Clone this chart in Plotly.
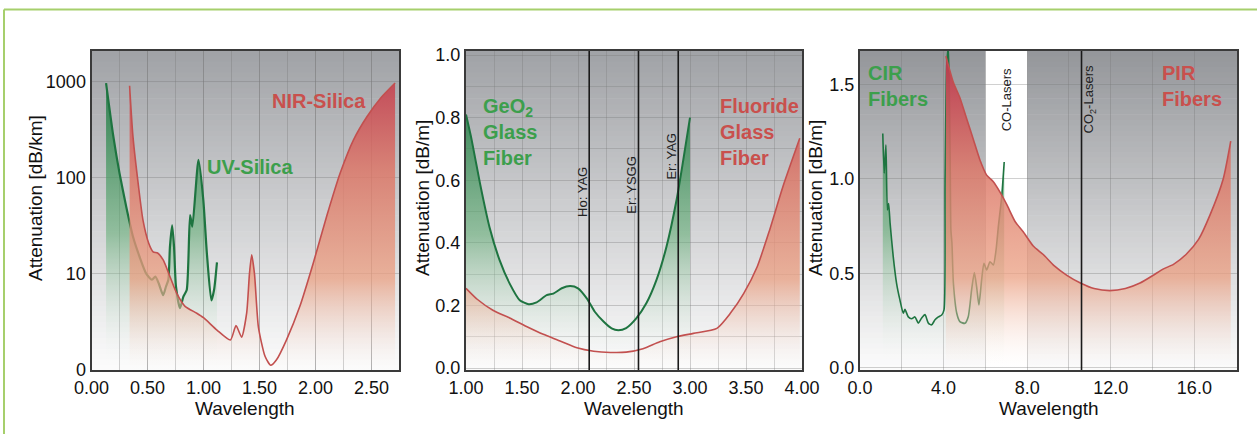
import plotly.graph_objects as go

# ---------------- data ----------------
# Panel 1 (log scale, dB/km)
uv_x = [0.13, 0.195, 0.25, 0.31, 0.37, 0.43, 0.49, 0.54, 0.57, 0.60, 0.64, 0.665, 0.686, 0.70, 0.72,
        0.737, 0.754, 0.79, 0.82, 0.85, 0.88, 0.90, 0.955, 0.998, 1.03, 1.07, 1.094, 1.12]
uv_y = [970, 270, 112, 50, 24.5, 15, 10, 8.7, 9.4, 8.0, 6.0, 7.4, 8.7, 19, 32,
        19, 7.4, 4.4, 5.8, 6.8, 41, 31, 154, 59, 16.4, 5.3, 6.8, 13.2]

nir_x = [0.34, 0.37, 0.42, 0.46, 0.51, 0.55, 0.59, 0.64, 0.70, 0.76, 0.835, 0.94, 1.00, 1.12, 1.24,
         1.29, 1.34, 1.385, 1.41, 1.43, 1.455, 1.49, 1.55, 1.60, 1.65, 1.74, 1.86, 1.98, 2.10,
         2.22, 2.34, 2.46, 2.58, 2.71]
nir_y = [910, 270, 81, 36, 21, 17, 16.5, 14, 9.4, 6.3, 4.6, 3.9, 3.5, 2.6, 2.05,
         2.9, 2.2, 3.9, 10, 15.8, 10, 2.8, 1.38, 1.12, 1.27, 2.05, 4.6, 13, 40,
         112, 250, 435, 675, 970]

# Panel 2 (dB/m)
geo_x = [1.00, 1.05, 1.125, 1.21, 1.30, 1.39, 1.48, 1.56, 1.63, 1.72, 1.78, 1.855, 1.93, 2.00,
         2.08, 2.15, 2.23, 2.30, 2.36, 2.43, 2.52, 2.61, 2.70, 2.79, 2.88, 2.94, 3.00]
geo_y = [0.81, 0.73, 0.59, 0.45, 0.345, 0.27, 0.217, 0.204, 0.21, 0.233, 0.238, 0.255, 0.262, 0.255,
         0.222, 0.18, 0.148, 0.127, 0.121, 0.128, 0.159, 0.207, 0.281, 0.388, 0.537, 0.665, 0.80]

flu_x = [1.00, 1.10, 1.24, 1.39, 1.54, 1.69, 1.84, 1.99, 2.14, 2.29, 2.43, 2.58, 2.73, 2.88, 3.03,
         3.24, 3.36, 3.48, 3.60, 3.71, 3.83, 3.98]
flu_y = [0.255, 0.22, 0.185, 0.16, 0.133, 0.108, 0.087, 0.065, 0.054, 0.050, 0.051, 0.062, 0.084,
         0.100, 0.111, 0.127, 0.175, 0.239, 0.324, 0.44, 0.58, 0.734]

# Panel 3 (dB/m)
cir_x = [1.09, 1.16, 1.24, 1.31, 1.37, 1.44, 1.59, 1.75, 1.91, 2.07, 2.15, 2.31, 2.47, 2.63, 2.79,
         2.95, 3.11, 3.27, 3.43, 3.59, 3.75, 3.91, 4.02, 4.07, 4.15, 4.23, 4.31, 4.35, 4.40, 4.47,
         4.63, 4.78, 5.02, 5.18, 5.34, 5.47, 5.58, 5.69, 5.82, 5.93, 6.06, 6.22, 6.38, 6.51, 6.62,
         6.78, 6.90]
cir_y = [1.24, 1.03, 1.18, 0.836, 0.87, 0.766, 0.589, 0.448, 0.36, 0.289, 0.31, 0.27, 0.26, 0.27, 0.237,
         0.264, 0.282, 0.237, 0.228, 0.255, 0.27, 0.28, 0.307, 0.977, 1.60, 1.70, 1.15, 0.73, 0.66, 0.448,
         0.289, 0.245, 0.236, 0.271, 0.413, 0.504, 0.43, 0.333, 0.466, 0.554, 0.518, 0.562, 0.545, 0.624, 0.748,
         0.906, 1.09]

pir_x = [4.11, 4.47, 4.78, 5.10, 5.42, 5.74, 6.06, 6.38, 6.70, 7.02, 7.42, 7.81, 8.29, 8.77, 9.3, 9.9,
         10.57, 11.2, 11.96, 12.7, 13.4, 14.03, 14.5, 15.0, 15.6, 16.2, 16.75, 17.38, 17.74]
pir_y = [1.65, 1.51, 1.43, 1.32, 1.21, 1.10, 1.02, 0.985, 0.93, 0.865, 0.775, 0.72, 0.645, 0.60, 0.54, 0.49,
         0.448, 0.42, 0.409, 0.42, 0.449, 0.49, 0.523, 0.548, 0.60, 0.68, 0.81, 1.0, 1.2]

laser_lines_p2 = [2.1, 2.54, 2.895]
laser_names_p2 = ["Ho: YAG", "Er: YSGG", "Er: YAG"]
co_band = [6.0, 8.0]
co2_line = 10.6

y1_ticks = [1, 10, 100, 1000]
y1_ticktext = ["0", "10", "100", "1000"]

# ---------------- style ----------------
W, H = 1257, 434
FONT = "Liberation Sans, Arial, Helvetica, sans-serif"
GREEN_LINE = "#1e7440"
RED_LINE = "#c2504f"
GREEN_TXT = "#3c9f4c"
RED_TXT = "#c9504d"

green_scale = [[0, "rgba(255,255,255,0)"], [0.45, "rgba(90,170,110,0.55)"], [1, "rgba(20,115,60,0.92)"]]
red_scale = [[0, "rgba(250,235,228,0)"], [0.3, "rgba(235,160,130,0.75)"], [0.65, "rgba(220,120,105,0.85)"],
             [1, "rgba(192,60,80,0.95)"]]

def px2x(px):
    return px / W

def py2y(py):
    return 1 - py / H

ydom = [py2y(370), py2y(51)]
xd1 = [px2x(91.5), px2x(399)]
xd2 = [px2x(466), px2x(802)]
xd3 = [px2x(860), px2x(1237)]

fig = go.Figure()

def add_curve(x, y, xa, ya, line_color, scale, start, stop, width):
    fig.add_trace(go.Scatter(
        x=x, y=y, xaxis=xa, yaxis=ya, mode="lines",
        line=dict(color=line_color, width=width, shape="spline", smoothing=0.6),
        fill="tozeroy",
        fillgradient=dict(type="vertical", colorscale=scale, start=start, stop=stop),
        hoverinfo="skip", showlegend=False))

add_curve(uv_x, uv_y, "x", "y", GREEN_LINE, green_scale, 1, 1500, 2.2)
add_curve(nir_x, nir_y, "x", "y", RED_LINE, red_scale, 1, 1500, 1.6)
add_curve(geo_x, geo_y, "x2", "y2", GREEN_LINE, green_scale, 0, 0.95, 2)
add_curve(flu_x, flu_y, "x2", "y2", RED_LINE, red_scale, 0, 0.95, 1.6)
add_curve(cir_x, cir_y, "x3", "y3", GREEN_LINE, green_scale, 0, 1.6, 1.6)
add_curve(pir_x, pir_y, "x3", "y3", RED_LINE, red_scale, 0, 1.6, 1.6)

shapes = []
# background gradients
def bg(xref, yref, top, bot, n=60):
    for i in range(n):
        t = (i + 0.5) / n
        c = [int(round(top[k] + (bot[k] - top[k]) * (1 - t))) for k in range(3)]
        shapes.append(dict(type="rect", xref=xref, yref=yref, x0=0, x1=1,
                           y0=i / n, y1=(i + 1) / n + 0.002, fillcolor="rgb(%d,%d,%d)" % tuple(c),
                           line=dict(width=0), layer="below"))

bg("x domain", "y domain", (160, 162, 166), (252, 252, 252))
bg("x2 domain", "y2 domain", (160, 162, 166), (252, 252, 252))
bg("x3 domain", "y3 domain", (148, 150, 154), (252, 252, 252))

shapes.append(dict(type="rect", xref="x3", yref="y3 domain", x0=co_band[0], x1=co_band[1], y0=0, y1=1,
                   fillcolor="white", line=dict(width=0), layer="below"))
for xv in laser_lines_p2:
    shapes.append(dict(type="line", xref="x2", yref="y2 domain", x0=xv, x1=xv, y0=0, y1=1,
                       line=dict(color="#1a1a1a", width=1.6), layer="above"))
shapes.append(dict(type="line", xref="x3", yref="y3 domain", x0=co2_line, x1=co2_line, y0=0, y1=1,
                   line=dict(color="#1a1a1a", width=1.6), layer="above"))

# green frame of the figure
shapes.append(dict(type="line", xref="paper", yref="paper", x0=px2x(4), x1=1, y0=py2y(9.5), y1=py2y(9.5),
                   line=dict(color="#a6cf6c", width=2)))
shapes.append(dict(type="line", xref="paper", yref="paper", x0=px2x(4), x1=px2x(4), y0=0, y1=py2y(9.5),
                   line=dict(color="#a6cf6c", width=2)))

ann = []
def label(text, x, y, xref, yref, color, size=20, bold=True, xanchor="center", align="center", angle=0):
    ann.append(dict(text=("<b>%s</b>" % text) if bold else text, x=x, y=y, xref=xref, yref=yref,
                    showarrow=False, font=dict(family=FONT, size=size, color=color),
                    xanchor=xanchor, yanchor="middle", align=align, textangle=angle))

# panel labels
label("NIR-Silica", 2.03, 2.795, "x", "y", RED_TXT)
label("UV-Silica", 1.415, 2.11, "x", "y", GREEN_TXT)
label("GeO<sub>2</sub><br>Glass<br>Fiber", 1.13, 0.754, "x2", "y2", GREEN_TXT, xanchor="left", align="left")
label("Fluoride<br>Glass<br>Fiber", 3.25, 0.754, "x2", "y2", RED_TXT, xanchor="left", align="left")
label("CIR<br>Fibers", 0.3, 1.49, "x3", "y3", GREEN_TXT, xanchor="left", align="left")
label("PIR<br>Fibers", 14.35, 1.49, "x3", "y3", RED_TXT, xanchor="left", align="left")

# laser labels (rotated)
lp = [(2.045, 0.563), (2.48, 0.585), (2.837, 0.675)]
for (lx, ly), name in zip(lp, laser_names_p2):
    label(name, lx, ly, "x2", "y2", "#222222", size=13, bold=False, angle=-90)
label("CO-Lasers", 7.02, 1.42, "x3", "y3", "#222222", size=13, bold=False, angle=-90)
label("CO<sub>2</sub>-Lasers", 11.0, 1.42, "x3", "y3", "#222222", size=13, bold=False, angle=-90)

# axis titles
for cx in [(91.5 + 399) / 2, (466 + 802) / 2, (860 + 1237) / 2]:
    label("Wavelength", px2x(cx), py2y(408), "paper", "paper", "#111111", size=19, bold=False)
for cx, t in [(35, "Attenuation [dB/km]"), (422, "Attenuation [dB/m]"), (815, "Attenuation [dB/m]")]:
    label(t, px2x(cx), py2y(198), "paper", "paper", "#111111", size=19, bold=False, angle=-90)

axis_common = dict(showline=True, mirror=True, linecolor="#3a3a3a", linewidth=2, ticks="",
                   tickfont=dict(family=FONT, size=18, color="#111111"), zeroline=False, automargin=False,
                   showgrid=True, gridcolor="rgba(120,120,120,0.35)", gridwidth=1)

fig.update_layout(
    template="none",
    width=W, height=H, margin=dict(l=0, r=0, t=0, b=0, pad=0, autoexpand=False),
    paper_bgcolor="white", plot_bgcolor="rgba(0,0,0,0)",
    showlegend=False, hovermode=False,
    shapes=shapes, annotations=ann,
    xaxis=dict(domain=xd1, range=[0, 2.745], tickvals=[0, 0.5, 1.0, 1.5, 2.0, 2.5], tickformat=".2f",
               minor=dict(dtick=0.25, showgrid=True, gridcolor="rgba(120,120,120,0.35)"), anchor="y", **axis_common),
    yaxis=dict(domain=ydom, type="log", range=[0, 3.32], tickvals=y1_ticks, ticktext=y1_ticktext,
               anchor="x", **axis_common),
    xaxis2=dict(domain=xd2, range=[1.0, 4.0], dtick=0.5, tick0=1.0, tickformat=".2f",
                minor=dict(dtick=0.25, showgrid=True, gridcolor="rgba(120,120,120,0.3)"), anchor="y2", **axis_common),
    yaxis2=dict(domain=ydom, range=[-0.006, 1.013], dtick=0.2, tickformat=".1f",
                minor=dict(dtick=0.1, showgrid=True, gridcolor="rgba(120,120,120,0.3)"), anchor="x2", **axis_common),
    xaxis3=dict(domain=xd3, range=[0, 18.04], dtick=4, tickformat=".1f",
                minor=dict(dtick=2, showgrid=True, gridcolor="rgba(120,120,120,0.35)"), anchor="y3", **axis_common),
    yaxis3=dict(domain=ydom, range=[-0.011, 1.677], dtick=0.5, tickformat=".1f", anchor="x3", **axis_common),
)

fig.write_html("out.html", config={"displayModeBar": False, "staticPlot": True},
               post_script="document.body.style.margin='0px';document.body.style.overflow='hidden';")
